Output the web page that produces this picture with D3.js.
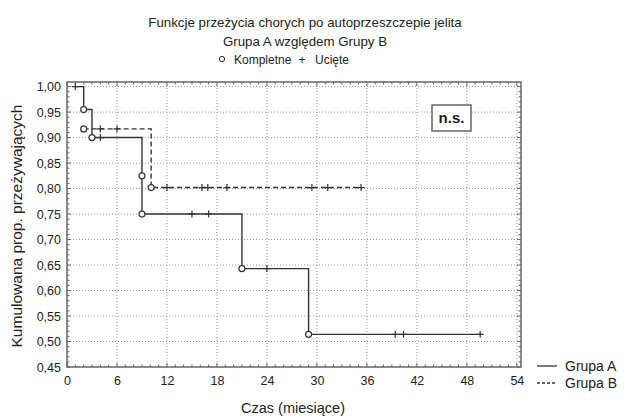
<!DOCTYPE html>
<html>
<head>
<meta charset="utf-8">
<script src="https://cdn.jsdelivr.net/npm/d3@7"></script>
<style>
body{margin:0;background:#fff;}
text{font-family:"Liberation Sans",Arial,sans-serif;fill:#222;}
</style>
</head>
<body>
<svg id="svg" width="633" height="416"></svg>
<script>
// group A (solid)
var aTimes=[1,2,3,4,9,9,15,17,21,24,29,39.4,40.4,49.6];
var aSurv=[1,0.955,0.90,0.90,0.825,0.75,0.75,0.75,0.643,0.643,0.514,0.514,0.514,0.514];
var aType=["c","k","k","c","k","k","c","c","k","c","k","c","c","c"];
// group B (dashed)
var bTimes=[2,4,6,10.1,12,16.2,16.9,19.2,29.4,31.3,35.3];
var bSurv=[0.917,0.917,0.917,0.802,0.802,0.802,0.802,0.802,0.802,0.802,0.802];
var bType=["k","c","c","k","c","c","c","c","c","c","c"];

var xTicks=[0,6,12,18,24,30,36,42,48,54];
var yTicks=[0.45,0.50,0.55,0.60,0.65,0.70,0.75,0.80,0.85,0.90,0.95,1.00];

var svg=d3.select("#svg");
var pL=67,pR=521,pT=82,pB=367;

var x=d3.scaleLinear().domain([0,54.5]).range([pL,pR]);
var y=d3.scaleLinear().domain([0.45,1.009]).range([pB,pT]);

// grid
svg.append("g").selectAll("line").data(xTicks.slice(1)).enter().append("line")
    .attr("x1",d=>x(d)).attr("x2",d=>x(d)).attr("y1",pT).attr("y2",pB)
    .style("stroke","#999").style("stroke-dasharray","1,2")
svg.append("g").selectAll("line").data(yTicks.slice(1)).enter().append("line")
    .attr("y1",d=>y(d)).attr("y2",d=>y(d)).attr("x1",pL).attr("x2",pR)
    .style("stroke","#999").style("stroke-dasharray","1,2")

// axes, ticks inward
var fmt=d=>d3.format(".2f")(d).replace(".",",");
var xa=svg.append("g").attr("transform","translate(0,"+pB+")")
    .call(d3.axisBottom(x).tickValues(xTicks).tickSize(0).tickPadding(9))
var ya=svg.append("g").attr("transform","translate("+pL+",0)")
    .call(d3.axisLeft(y).tickValues(yTicks).tickFormat(fmt).tickSize(0).tickPadding(6))
;[xa,ya].forEach(g=>{
    g.select(".domain").remove();
    g.selectAll("text").style("font-size","12.5px").style("font-family","Liberation Sans, Arial, sans-serif").style("fill","#222");
})

// minor ticks on all sides
var xMinor=d3.range(0,55,1), yMinor=d3.range(45,101,1).map(d=>d/100);
var tk=svg.append("g").style("stroke","#666").style("stroke-width","1")
xMinor.forEach(t=>{
    var len=t%6==0?4:2.5;
    tk.append("line").attr("x1",x(t)).attr("x2",x(t)).attr("y1",pB).attr("y2",pB-len)
    tk.append("line").attr("x1",x(t)).attr("x2",x(t)).attr("y1",pT).attr("y2",pT+len)
})
yMinor.forEach(v=>{
    var len=Math.round(v*100)%5==0?4:2.5;
    tk.append("line").attr("y1",y(v)).attr("y2",y(v)).attr("x1",pL).attr("x2",pL+len)
    tk.append("line").attr("y1",y(v)).attr("y2",y(v)).attr("x1",pR).attr("x2",pR-len)
})

// frame
svg.append("rect").attr("x",pL).attr("y",pT).attr("width",pR-pL).attr("height",pB-pT)
    .style("fill","none").style("stroke","#666").style("stroke-width","1.5")

function curve(times,surv,types,dash){
    var pts=times.map((t,i)=>[t,surv[i]]);
    var line=d3.line().x(d=>x(d[0])).y(d=>y(d[1])).curve(d3.curveStepAfter);
    var g=svg.append("g");
    g.append("path").attr("d",line(pts))
        .style("fill","none").style("stroke","#333").style("stroke-width","1.4")
        .style("stroke-dasharray",dash)
    pts.forEach((p,i)=>{
        if(types[i]=="k"){
            g.append("circle").attr("cx",x(p[0])).attr("cy",y(p[1])).attr("r",3)
                .style("fill","#fff").style("stroke","#333").style("stroke-width","1.2")
        } else {
            g.append("path").attr("d","M"+(x(p[0])-3.5)+","+y(p[1])+"h7M"+x(p[0])+","+(y(p[1])-3.5)+"v7")
                .style("stroke","#333").style("stroke-width","1.2")
        }
    })
}
curve(bTimes,bSurv,bType,"5,3")
curve(aTimes,aSurv,aType,null)

// n.s. box
svg.append("rect").attr("x",432).attr("y",105).attr("width",39).attr("height",26)
    .style("fill","#fff").style("stroke","#666").style("stroke-width","1.5")
svg.append("text").attr("x",451.5).attr("y",123).attr("text-anchor","middle")
    .style("font-size","15px").style("font-weight","bold").text("n.s.")

// titles
svg.append("text").attr("x",305).attr("y",27).attr("text-anchor","middle").style("font-size","13.3px")
    .text("Funkcje przeżycia chorych po autoprzeszczepie jelita")
svg.append("text").attr("x",305).attr("y",46).attr("text-anchor","middle").style("font-size","13.3px")
    .text("Grupa A względem Grupy B")
svg.append("circle").attr("cx",222).attr("cy",59).attr("r",2.6).style("fill","none").style("stroke","#222")
svg.append("text").attr("x",234).attr("y",64).style("font-size","12px").text("Kompletne")
svg.append("text").attr("x",302).attr("y",64).attr("text-anchor","middle").style("font-size","12px").text("+")
svg.append("text").attr("x",315).attr("y",64).style("font-size","12px").text("Ucięte")

svg.append("text").attr("x",293).attr("y",413).attr("text-anchor","middle").style("font-size","14.5px")
    .text("Czas (miesiące)")
svg.append("text").attr("transform","translate(22,226) rotate(-90)").attr("text-anchor","middle")
    .style("font-size","15.5px").text("Kumulowana prop. przeżywających")

// legend
var leg=[["Grupa A",null,366],["Grupa B","3,2",383]];
leg.forEach(l=>{
    svg.append("line").attr("x1",537).attr("x2",557).attr("y1",l[2]).attr("y2",l[2])
        .style("stroke","#333").style("stroke-width","1.3").style("stroke-dasharray",l[1])
    svg.append("text").attr("x",565).attr("y",l[2]+5).style("font-size","14px").text(l[0])
})
</script>
</body>
</html>
